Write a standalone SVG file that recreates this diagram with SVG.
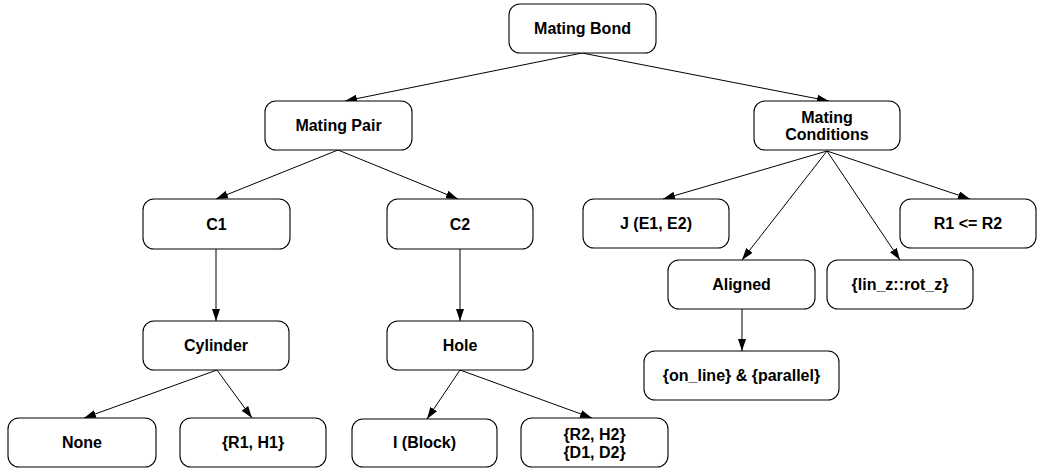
<svg xmlns="http://www.w3.org/2000/svg" width="1039" height="469" viewBox="0 0 1039 469">
  <defs>
    <marker id="arrow" markerWidth="12" markerHeight="8" refX="12" refY="4" orient="auto" markerUnits="userSpaceOnUse">
      <path d="M0,0 L12,4 L0,8 z" fill="#000"/>
    </marker>
    <style>
      .box { fill: #fff; stroke: #000; stroke-width: 1.1; }
      .lbl { font-family: "Liberation Sans", Arial, sans-serif; font-size: 16px; font-weight: bold; fill: #000; text-anchor: middle; }
      .edge { stroke: #000; stroke-width: 1; fill: none; marker-end: url(#arrow); }
    </style>
  </defs>
  <rect width="1039" height="469" fill="#fff"/>

  <g id="connectors">
    <line class="edge" x1="582" y1="53" x2="345" y2="101"/>
    <line class="edge" x1="582" y1="53" x2="829" y2="101"/>
    <line class="edge" x1="338" y1="150" x2="216" y2="199"/>
    <line class="edge" x1="338" y1="150" x2="458" y2="199"/>
    <line class="edge" x1="216" y1="249" x2="216" y2="321"/>
    <line class="edge" x1="460" y1="249" x2="460" y2="321"/>
    <line class="edge" x1="827" y1="151" x2="663" y2="199"/>
    <line class="edge" x1="827" y1="151" x2="970" y2="199"/>
    <line class="edge" x1="827" y1="151" x2="742" y2="260"/>
    <line class="edge" x1="827" y1="151" x2="900" y2="260"/>
    <line class="edge" x1="742" y1="309" x2="742" y2="351"/>
    <line class="edge" x1="217" y1="370" x2="84" y2="418"/>
    <line class="edge" x1="217" y1="370" x2="252" y2="418"/>
    <line class="edge" x1="460" y1="370" x2="427" y2="419"/>
    <line class="edge" x1="460" y1="370" x2="592" y2="418"/>
  </g>

  <g id="mating-bond">
    <rect class="box" x="509" y="4" width="147" height="49" rx="11"/>
    <text class="lbl" x="582.5" y="34">Mating Bond</text>
  </g>
  <g id="mating-pair">
    <rect class="box" x="265" y="101" width="147" height="49" rx="11"/>
    <text class="lbl" x="338.5" y="131">Mating Pair</text>
  </g>
  <g id="mating-conditions">
    <rect class="box" x="754" y="101" width="146" height="49" rx="11"/>
    <text class="lbl" x="827" y="123">Mating</text>
    <text class="lbl" x="827" y="140">Conditions</text>
  </g>
  <g id="c1">
    <rect class="box" x="143" y="199" width="147" height="50" rx="11"/>
    <text class="lbl" x="216.5" y="230">C1</text>
  </g>
  <g id="c2">
    <rect class="box" x="387" y="199" width="146" height="50" rx="11"/>
    <text class="lbl" x="460" y="230">C2</text>
  </g>
  <g id="joint">
    <rect class="box" x="583" y="199" width="146" height="49" rx="11"/>
    <text class="lbl" x="656" y="229">J (E1, E2)</text>
  </g>
  <g id="radius-cond">
    <rect class="box" x="900" y="199" width="136" height="49" rx="11"/>
    <text class="lbl" x="968" y="229">R1 &lt;= R2</text>
  </g>
  <g id="aligned">
    <rect class="box" x="668" y="260" width="147" height="49" rx="11"/>
    <text class="lbl" x="741.5" y="290">Aligned</text>
  </g>
  <g id="lin-rot">
    <rect class="box" x="827" y="260" width="146" height="49" rx="11"/>
    <text class="lbl" x="900" y="290">{lin_z::rot_z}</text>
  </g>
  <g id="online-parallel">
    <rect class="box" x="644" y="351" width="195" height="49" rx="11"/>
    <text class="lbl" x="741.5" y="381">{on_line} &amp; {parallel}</text>
  </g>
  <g id="cylinder">
    <rect class="box" x="143" y="321" width="146" height="49" rx="11"/>
    <text class="lbl" x="216" y="351">Cylinder</text>
  </g>
  <g id="hole">
    <rect class="box" x="387" y="321" width="146" height="49" rx="11"/>
    <text class="lbl" x="460" y="351">Hole</text>
  </g>
  <g id="none">
    <rect class="box" x="8" y="418" width="148" height="49" rx="11"/>
    <text class="lbl" x="82" y="448">None</text>
  </g>
  <g id="r1-h1">
    <rect class="box" x="180" y="418" width="146" height="49" rx="11"/>
    <text class="lbl" x="253" y="448">{R1, H1}</text>
  </g>
  <g id="block">
    <rect class="box" x="352" y="419" width="145" height="48" rx="11"/>
    <text class="lbl" x="424.5" y="448">I (Block)</text>
  </g>
  <g id="r2-h2-d1-d2">
    <rect class="box" x="521" y="418" width="147" height="49" rx="11"/>
    <text class="lbl" x="594.5" y="440">{R2, H2}</text>
    <text class="lbl" x="594.5" y="458">{D1, D2}</text>
  </g>
</svg>
